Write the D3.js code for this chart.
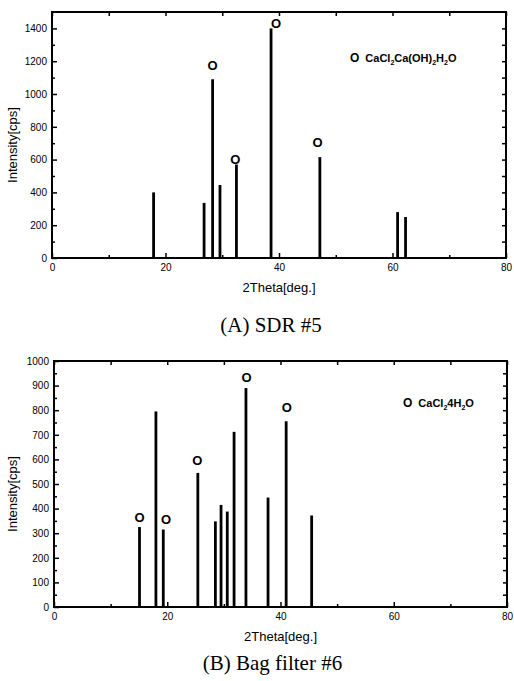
<!DOCTYPE html>
<html>
<head>
<meta charset="utf-8">
<script src="https://cdn.jsdelivr.net/npm/d3@7"></script>
<style>
  body { margin: 0; background: #fff; }
  svg { display: block; }
  .tick text { font-family: "Liberation Sans", Arial, sans-serif; font-size: 10px; fill: #000; }
  .axis path { display: none; }
  .tick line { stroke: #000; stroke-width: 1.5; }
</style>
</head>
<body>
<script>
// peak positions (2theta) and intensities
var thetaA = [17.9, 26.8, 28.3, 29.6, 32.5, 38.6, 47.2, 60.9, 62.3];
var intensA = [400, 336, 1090, 445, 570, 1400, 615, 280, 250];
// "O" marks for CaCl2Ca(OH)2H2O
var markThetaA = [28.3, 32.3, 39.5, 46.8];
var markIntensA = [1175, 600, 1433, 707];

var thetaB = [15.1, 18.0, 19.3, 25.4, 28.5, 29.5, 30.6, 31.8, 33.9, 37.8, 41.0, 45.5];
var intensB = [325, 795, 315, 545, 348, 415, 388, 712, 890, 445, 755, 372];
// "O" marks for CaCl2 4H2O
var markThetaB = [15.1, 19.8, 25.3, 34.0, 41.1];
var markIntensB = [366, 358, 598, 935, 813];

var xTicks = [0, 20, 40, 60, 80];

var svg = d3.select("body").append("svg")
  .attr("width", 514)
  .attr("height", 681);

function drawPanel(opt) {
  var x = d3.scaleLinear().domain([0, 80]).range([opt.left, opt.right]);
  var y = d3.scaleLinear().domain([0, opt.ymax]).range([opt.bottom, opt.top]);
  var g = svg.append("g");

  // peaks
  g.selectAll("line.peak")
    .data(opt.theta.map(function(t, i) { return {t: t, v: opt.intens[i]}; }))
    .enter().append("line")
    .attr("class", "peak")
    .attr("x1", function(d) { return x(d.t); })
    .attr("x2", function(d) { return x(d.t); })
    .attr("y1", y(0))
    .attr("y2", function(d) { return y(d.v); })
    .attr("stroke", "#000")
    .attr("stroke-width", 2.8);

  // bottom axis, ticks point inward
  g.append("g").attr("class", "axis")
    .attr("transform", "translate(0," + opt.bottom + ")")
    .call(d3.axisBottom(x).tickValues(xTicks).tickSize(-5).tickPadding(6)
      .tickFormat(d3.format("d")));
  g.append("g").attr("class", "axis")
    .attr("transform", "translate(0," + opt.bottom + ")")
    .call(d3.axisBottom(x).tickValues([10, 30, 50, 70]).tickSize(-3).tickFormat(""));
  g.append("g").attr("class", "axis")
    .attr("transform", "translate(0," + opt.top + ")")
    .call(d3.axisTop(x).ticks(8).tickSize(-4).tickFormat(""));

  // left axis
  g.append("g").attr("class", "axis")
    .attr("transform", "translate(" + opt.left + ",0)")
    .call(d3.axisLeft(y).tickValues(d3.range(0, opt.ymax + 1, opt.major))
      .tickSize(-5).tickPadding(5).tickFormat(d3.format("d")));
  g.append("g").attr("class", "axis")
    .attr("transform", "translate(" + opt.left + ",0)")
    .call(d3.axisLeft(y).tickValues(d3.range(opt.major / 2, opt.ymax, opt.major)).tickSize(-3).tickFormat(""));
  g.append("g").attr("class", "axis")
    .attr("transform", "translate(" + opt.right + ",0)")
    .call(d3.axisRight(y).tickValues(d3.range(opt.major / 2, opt.ymax, opt.major / 2)).tickSize(-4).tickFormat(""));

  // frame
  g.append("rect")
    .attr("x", opt.left).attr("y", opt.top)
    .attr("width", opt.right - opt.left).attr("height", opt.bottom - opt.top)
    .attr("fill", "none").attr("stroke", "#000").attr("stroke-width", 2);

  // circle marks drawn as "O" letters
  g.selectAll("text.mark")
    .data(opt.markTheta.map(function(t, i) { return {t: t, v: opt.markIntens[i]}; }))
    .enter().append("text")
    .attr("class", "mark")
    .attr("x", function(d) { return x(d.t); })
    .attr("y", function(d) { return y(d.v); })
    .attr("dy", "0.36em")
    .attr("text-anchor", "middle")
    .style("font-family", "Liberation Sans, Arial, sans-serif")
    .style("font-weight", "bold")
    .style("font-size", "13px")
    .text("O");

  // legend
  var leg = g.append("text")
    .attr("x", opt.legX).attr("y", opt.legY + 4)
    .style("font-family", "Liberation Sans, Arial, sans-serif")
    .style("font-weight", "bold")
    .style("font-size", "11px");
  leg.append("tspan").style("font-size", "12px").text("O");
  var shift = 0;
  opt.legend.forEach(function(p, i) {
    var t = leg.append("tspan").text(p.s);
    if (i === 0) t.attr("dx", 6);
    if (p.sub) {
      t.attr("dy", 3).style("font-size", "7px");
      shift = 3;
    } else if (shift) {
      t.attr("dy", -shift);
      shift = 0;
    }
  });

  // axis titles
  g.append("text")
    .attr("x", (opt.left + opt.right) / 2)
    .attr("y", opt.bottom + 34)
    .attr("text-anchor", "middle")
    .style("font-family", "Liberation Sans, Arial, sans-serif")
    .style("font-size", "13px")
    .text("2Theta[deg.]");
  g.append("text")
    .attr("transform", "translate(17," + opt.ylabY + ") rotate(-90)")
    .attr("text-anchor", "middle")
    .style("font-family", "Liberation Sans, Arial, sans-serif")
    .style("font-size", "13px")
    .text("Intensity[cps]");

  // caption
  g.append("text")
    .attr("x", (opt.left + opt.right) / 2 - 8)
    .attr("y", opt.capY)
    .attr("text-anchor", "middle")
    .style("font-family", "Liberation Serif, Times New Roman, serif")
    .style("font-size", "21px")
    .text(opt.caption);
}

drawPanel({
  left: 52, right: 506, top: 12, bottom: 258, ymax: 1500, major: 200,
  theta: thetaA, intens: intensA, markTheta: markThetaA, markIntens: markIntensA,
  legX: 350, legY: 58,
  legend: [{s: "CaCl"}, {s: "2", sub: true}, {s: "Ca(OH)"}, {s: "2", sub: true}, {s: "H"}, {s: "2", sub: true}, {s: "O"}],
  ylabY: 145, capY: 332, caption: "(A) SDR #5"
});

drawPanel({
  left: 54, right: 507, top: 361, bottom: 607, ymax: 1000, major: 100,
  theta: thetaB, intens: intensB, markTheta: markThetaB, markIntens: markIntensB,
  legX: 403, legY: 403,
  legend: [{s: "CaCl"}, {s: "2", sub: true}, {s: "4H"}, {s: "2", sub: true}, {s: "O"}],
  ylabY: 494, capY: 670, caption: "(B) Bag filter #6"
});
</script>
</body>
</html>
